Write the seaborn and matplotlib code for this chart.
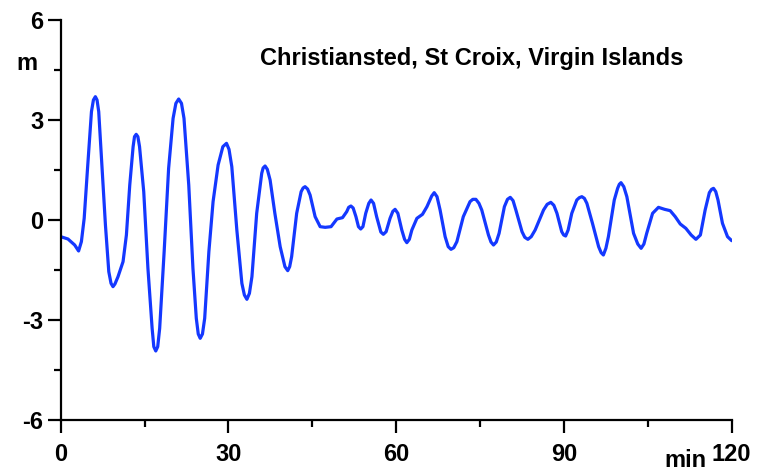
import matplotlib
matplotlib.use("Agg")
import matplotlib.pyplot as plt
from matplotlib.ticker import MultipleLocator
import seaborn as sns
import pandas as pd

# ---- data (time in minutes, sea level in metres) ----
t_min = [
    0.0, 1.3, 2.5, 3.2, 3.7, 4.2, 4.8, 5.5, 5.85, 6.2, 6.5, 6.8, 7.4, 8.0, 8.6,
    9.0, 9.35, 9.7, 10.25, 11.15, 11.75, 12.35, 12.95, 13.2, 13.5, 13.8, 14.1,
    14.85, 15.6, 16.35, 16.65, 17.0, 17.35, 17.7, 18.5, 19.3, 20.1, 20.6, 21.1,
    21.6, 22.05, 22.9, 23.65, 24.25, 24.6, 24.95, 25.35, 25.75, 26.5, 27.25,
    28.15, 29.0, 29.65, 30.1, 30.6, 31.5, 32.4, 32.85, 33.3, 33.75, 34.2, 35.05,
    35.95, 36.2, 36.55, 36.95, 37.45, 38.3, 39.25, 40.1, 40.6, 40.95, 41.3, 42.2,
    43.0, 43.35, 43.7, 44.15, 44.6, 45.5, 46.4, 47.3, 48.35, 49.4, 50.4, 51.15,
    51.5, 51.9, 52.3, 52.8, 53.25, 53.65, 54.05, 54.55, 55.1, 55.5, 55.95, 56.5,
    57.25, 57.7, 58.2, 58.9, 59.4, 59.8, 60.3, 61.0, 61.5, 61.9, 62.35, 62.8,
    63.7, 64.7, 65.5, 66.35, 66.8, 67.3, 67.85, 68.75, 69.3, 69.8, 70.3, 70.85,
    72.0, 73.2, 73.7, 74.25, 74.8, 75.3, 76.5, 76.95, 77.4, 77.9, 78.4, 79.35,
    79.9, 80.4, 80.9, 81.4, 82.5, 83.0, 83.55, 84.15, 84.85, 86.35, 87.0, 87.65,
    88.2, 88.75, 89.6, 89.95, 90.3, 90.75, 91.4, 92.3, 92.75, 93.2, 93.65, 94.1,
    95.1, 96.2, 96.65, 97.05, 97.5, 97.95, 99.0, 99.6, 99.9, 100.2, 100.7,
    101.25, 102.45, 103.2, 103.8, 104.3, 104.8, 105.85, 106.9, 108.0, 109.0,
    109.9, 110.8, 111.8, 112.75, 113.6, 114.4, 115.25, 116.0, 116.4, 116.75,
    117.15, 117.55, 118.35, 119.25, 120.0,
]
level_m = [
    -0.5, -0.57, -0.75, -0.93, -0.65, 0.05, 1.55, 3.25, 3.6, 3.7, 3.6, 3.25, 1.55,
    -0.15, -1.55, -1.9, -2.0, -1.92, -1.7, -1.25, -0.45, 1.05, 2.2, 2.5, 2.57,
    2.5, 2.2, 0.85, -1.45, -3.25, -3.8, -3.93, -3.8, -3.25, -0.95, 1.55, 3.05,
    3.5, 3.63, 3.5, 3.05, 1.05, -1.45, -2.95, -3.42, -3.55, -3.42, -2.95, -0.95,
    0.55, 1.65, 2.2, 2.3, 2.12, 1.6, -0.3, -1.9, -2.25, -2.38, -2.2, -1.7, 0.2,
    1.4, 1.56, 1.62, 1.52, 1.2, 0.2, -0.8, -1.4, -1.52, -1.4, -1.1, 0.2, 0.85,
    0.96, 1.0, 0.93, 0.75, 0.1, -0.2, -0.22, -0.2, 0.03, 0.07, 0.25, 0.38, 0.42,
    0.36, 0.1, -0.2, -0.27, -0.2, 0.2, 0.5, 0.6, 0.5, 0.1, -0.36, -0.43, -0.35,
    0.05, 0.26, 0.32, 0.2, -0.3, -0.58, -0.68, -0.58, -0.3, 0.05, 0.17, 0.4,
    0.72, 0.82, 0.7, 0.3, -0.5, -0.8, -0.88, -0.83, -0.65, 0.1, 0.55, 0.62, 0.62,
    0.5, 0.3, -0.45, -0.66, -0.75, -0.66, -0.4, 0.4, 0.62, 0.68, 0.58, 0.3,
    -0.35, -0.52, -0.58, -0.5, -0.3, 0.3, 0.47, 0.53, 0.44, 0.2, -0.35, -0.45,
    -0.48, -0.3, 0.2, 0.6, 0.67, 0.7, 0.65, 0.5, -0.1, -0.8, -0.98, -1.05,
    -0.85, -0.5, 0.6, 0.95, 1.07, 1.12, 1.0, 0.7, -0.4, -0.72, -0.85, -0.72,
    -0.4, 0.2, 0.38, 0.32, 0.28, 0.1, -0.12, -0.25, -0.45, -0.58, -0.45, 0.3,
    0.82, 0.92, 0.95, 0.85, 0.6, -0.1, -0.5, -0.62,
]
x_ticks = [0, 30, 60, 90, 120]
y_ticks = [-6, -3, 0, 3, 6]
title = "Christiansted, St Croix, Virgin Islands"

df = pd.DataFrame({"t": t_min, "h": level_m})

sns.set_style("ticks")
plt.rcParams["font.family"] = ["Liberation Sans", "DejaVu Sans"]
plt.rcParams["font.weight"] = "bold"
for k in ["text.color", "axes.labelcolor", "xtick.color", "ytick.color",
          "axes.edgecolor"]:
    plt.rcParams[k] = "black"

fig = plt.figure(figsize=(7.58, 4.72), dpi=100)
ax = fig.add_axes([60.7 / 758, 52 / 472, 671 / 758, 400 / 472])

sns.lineplot(data=df, x="t", y="h", ax=ax, color="#1438ff", linewidth=2.3,
             sort=False, estimator=None)
ax.get_lines()[0].set_solid_joinstyle("round")
ax.get_lines()[0].set_solid_capstyle("round")

ax.set_xlim(0, 120)
ax.set_ylim(-6, 6)
ax.set_xticks(x_ticks)
ax.set_yticks(y_ticks)
ax.set_xticklabels([str(v) for v in x_ticks])
ax.set_yticklabels([str(v) for v in y_ticks])
ax.xaxis.set_minor_locator(MultipleLocator(15))
ax.yaxis.set_minor_locator(MultipleLocator(1.5))
ax.set_xlabel("")
ax.set_ylabel("")

for s in ["top", "right"]:
    ax.spines[s].set_visible(False)
for s in ["left", "bottom"]:
    ax.spines[s].set_linewidth(1.6)
    ax.spines[s].set_color("black")

ax.tick_params(which="major", direction="out", length=9.5, width=1.6,
               labelsize=17, pad=3, color="black", labelcolor="black")
ax.tick_params(which="minor", direction="out", length=5, width=1.6, color="black")
ax.tick_params(axis="x", which="major", pad=7)
for lab in ax.get_xticklabels() + ax.get_yticklabels():
    lab.set_fontweight("bold")

fig.text(471.5 / 758, 1 - 65 / 472, title, ha="center", va="baseline",
         fontsize=17, fontweight="bold")
fig.text(27 / 758, 1 - 70 / 472, "m", ha="center", va="baseline",
         fontsize=17, fontweight="bold")
fig.text(685.5 / 758, 1 - 467 / 472, "min", ha="center", va="baseline",
         fontsize=17, fontweight="bold")

fig.savefig("out.png", dpi=100)
